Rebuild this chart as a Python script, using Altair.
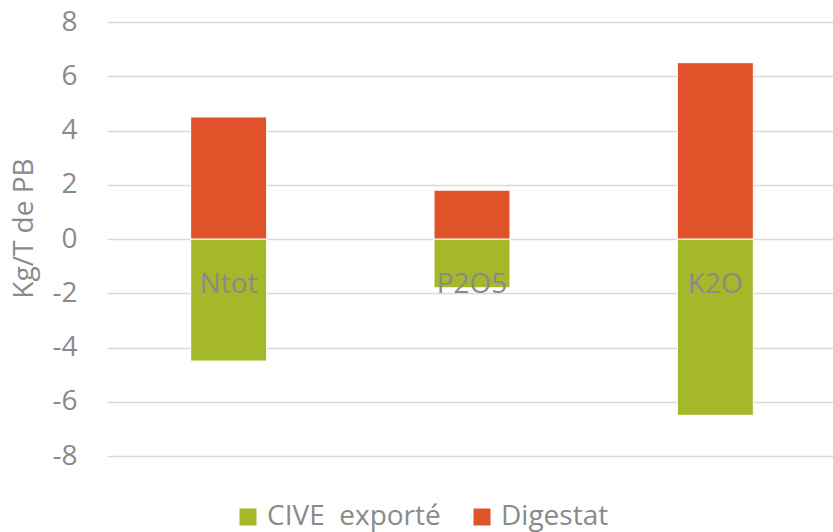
import altair as alt
import pandas as pd

categories = ["Ntot", "P2O5", "K2O"]
cive_exporte = [-4.5, -1.8, -6.5]
digestat = [4.5, 1.8, 6.5]
series_names = ["CIVE\u00a0 exporté", "Digestat"]
y_ticks = [-8, -6, -4, -2, 0, 2, 4, 6, 8]

rows = []
for c, a, b in zip(categories, cive_exporte, digestat):
    rows.append({"cat": c, "serie": series_names[0], "val": a})
    rows.append({"cat": c, "serie": series_names[1], "val": b})
df = pd.DataFrame(rows)
lab = pd.DataFrame({"cat": categories})

FONT = "Open Sans"
GREY = "#8a8a8a"

x_enc = alt.X("cat:N", sort=categories, axis=None,
              scale=alt.Scale(range=[0, 730], paddingInner=0, paddingOuter=0))

bars = alt.Chart(df).mark_bar(size=76, stroke="white", strokeWidth=1).encode(
    x=x_enc,
    y=alt.Y("val:Q", stack=None,
            scale=alt.Scale(domain=[-8, 8], nice=False),
            axis=alt.Axis(values=y_ticks, title="Kg/T de PB", ticks=False, domain=False,
                          labelExpr="replace(datum.label, '\u2212', '-')",
                          labelPadding=30, labelFontSize=28, labelFont=FONT, labelColor=GREY,
                          gridColor="#d9d9d9", gridWidth=1.5,
                          titleFontSize=28, titleFont=FONT, titleColor=GREY, titleFontWeight="normal",
                          titleX=-83, titleY=206, titleAngle=270, titleAlign="center",
                          titleBaseline="middle")),
    color=alt.Color("serie:N", sort=series_names,
                    scale=alt.Scale(domain=series_names, range=["#A5B82A", "#E0532A"]),
                    legend=alt.Legend(title=None, orient="none", direction="horizontal",
                                      legendX=127, legendY=481, symbolType="square",
                                      symbolSize=289, symbolStrokeWidth=0, labelLimit=400,
                                      labelFontSize=28, labelFont=FONT, labelColor=GREY,
                                      columnPadding=27, labelOffset=5)),
)

labels = alt.Chart(lab).mark_text(baseline="alphabetic", align="center", dy=54,
                                  fontSize=28, font=FONT, color=GREY).encode(
    x=x_enc,
    y=alt.datum(0),
    text="cat:N",
)

chart = alt.layer(bars, labels).properties(
    width=726, height=434,
    autosize=alt.AutoSizeParams(type="none"),
    padding={"left": 107, "top": 22, "right": 0, "bottom": 76},
).configure(background="white").configure_view(stroke=None)

chart.save("out.html", embed_options={"renderer": "svg", "actions": False})
